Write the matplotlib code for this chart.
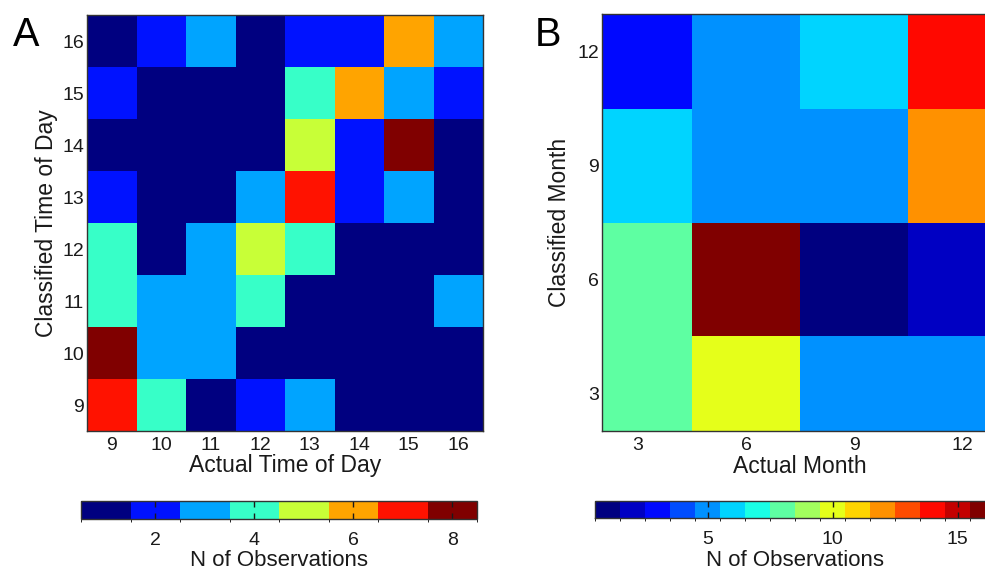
import numpy as np
import matplotlib
matplotlib.use("Agg")
import matplotlib.pyplot as plt
from matplotlib.colors import ListedColormap, BoundaryNorm

plt.rcParams["font.family"] = ["Liberation Sans", "DejaVu Sans"]

# ---- Panel A: time of day confusion counts (rows = classified 9..16, cols = actual 9..16)
hours = [9, 10, 11, 12, 13, 14, 15, 16]
hour_counts = [
    [7, 4, 1, 2, 3, 1, 1, 1],   # classified 9
    [8, 3, 3, 1, 1, 1, 1, 1],   # classified 10
    [4, 3, 3, 4, 1, 1, 1, 3],   # classified 11
    [4, 1, 3, 5, 4, 1, 1, 1],   # classified 12
    [2, 1, 1, 3, 7, 2, 3, 1],   # classified 13
    [1, 1, 1, 1, 5, 2, 8, 1],   # classified 14
    [2, 1, 1, 1, 4, 6, 3, 2],   # classified 15
    [1, 2, 3, 1, 2, 2, 6, 3],   # classified 16
]
hour_cbar_ticks = [2, 4, 6, 8]
hour_levels = 8

# ---- Panel B: month confusion counts (rows = classified 3,6,9,12; cols = actual 3,6,9,12)
months = [3, 6, 9, 12]
month_counts = [
    [8, 10, 5, 5],     # classified 3
    [8, 16, 1, 2],     # classified 6
    [6, 5, 5, 12],     # classified 9
    [3, 5, 6, 14],     # classified 12
]
month_cbar_ticks = [5, 10, 15]
month_levels = 16

W, H = 985, 574
fig = plt.figure(figsize=(W / 100, H / 100), dpi=100)
fig.patch.set_facecolor("white")


def px_axes(x0, y0, x1, y1):
    """Axes from a pixel box measured from the top-left corner."""
    return fig.add_axes([x0 / W, 1 - y1 / H, (x1 - x0) / W, (y1 - y0) / H])


def jet_colors(n):
    x = np.linspace(0, 1, n)
    r = np.clip(1.5 - np.abs(4 * x - 3), 0, 1)
    g = np.clip(1.5 - np.abs(4 * x - 2), 0, 1)
    b = np.clip(1.5 - np.abs(4 * x - 1), 0, 1)
    return np.column_stack([r, g, b])


def edges_from_centers(c):
    c = np.asarray(c, float)
    step = c[1] - c[0]
    return np.append(c - step / 2, c[-1] + step / 2)


def panel(ax_box, cbar_box, centers, counts, levels, ticks, lims,
          xlabel, ylabel, letter, letter_xy, cbar_ticks):
    cmap = ListedColormap(jet_colors(levels))
    norm = BoundaryNorm(np.arange(0.5, levels + 1.5), levels)
    ax = px_axes(*ax_box)
    e = edges_from_centers(centers)
    mesh = ax.pcolormesh(e, e, np.array(counts), cmap=cmap, norm=norm,
                         shading="flat", antialiased=False, edgecolors="none")
    ax.set_xlim(*lims)
    ax.set_ylim(*lims)
    ax.set_xticks(ticks)
    ax.set_yticks(ticks)
    ax.tick_params(length=0, labelsize=14, colors="#1a1a1a")
    ax.tick_params(axis="x", pad=4)
    ax.tick_params(axis="y", pad=2)
    for s in ax.spines.values():
        s.set_linewidth(1.0)
        s.set_color("#333333")
    ax.set_xlabel(xlabel, fontsize=16.5, color="#1a1a1a", va="center")
    ax.xaxis.set_label_coords(0.5, -0.084)
    ax.set_ylabel(ylabel, fontsize=16.5, color="#1a1a1a", va="center")
    bx = ax_box[0]
    ax.yaxis.set_label_coords((letter_xy[2] - bx) / (ax_box[2] - ax_box[0]), 0.5)
    fig.text(letter_xy[0] / W, 1 - letter_xy[1] / H, letter, fontsize=28.5,
             ha="left", va="top", color="black")

    cax = px_axes(*cbar_box)
    cb = fig.colorbar(mesh, cax=cax, orientation="horizontal", ticks=cbar_ticks)
    cb.outline.set_linewidth(1.0)
    cb.outline.set_edgecolor("#333333")
    cax.tick_params(direction="in", length=4, width=1, top=True, bottom=True,
                    labeltop=False, labelsize=14, pad=9.5, colors="#1a1a1a")
    cax.set_xlabel("N of Observations", fontsize=16, color="#1a1a1a", va="top")
    cax.xaxis.set_label_coords(0.5, -(550 - cbar_box[3]) / (cbar_box[3] - cbar_box[1]))
    return ax


panel((87, 15, 483, 431), (81, 501, 477, 519), hours, hour_counts, hour_levels,
      hours, (8.5, 16.5), "Actual Time of Day", "Classified Time of Day",
      "A", (13, 16, 47), hour_cbar_ticks)

panel((602, 14, 998, 431), (595, 501, 995, 518), months, month_counts, month_levels,
      months, (2, 13), "Actual Month", "Classified Month",
      "B", (535, 16, 560), month_cbar_ticks)

fig.savefig("out.png", dpi=100, facecolor="white")
